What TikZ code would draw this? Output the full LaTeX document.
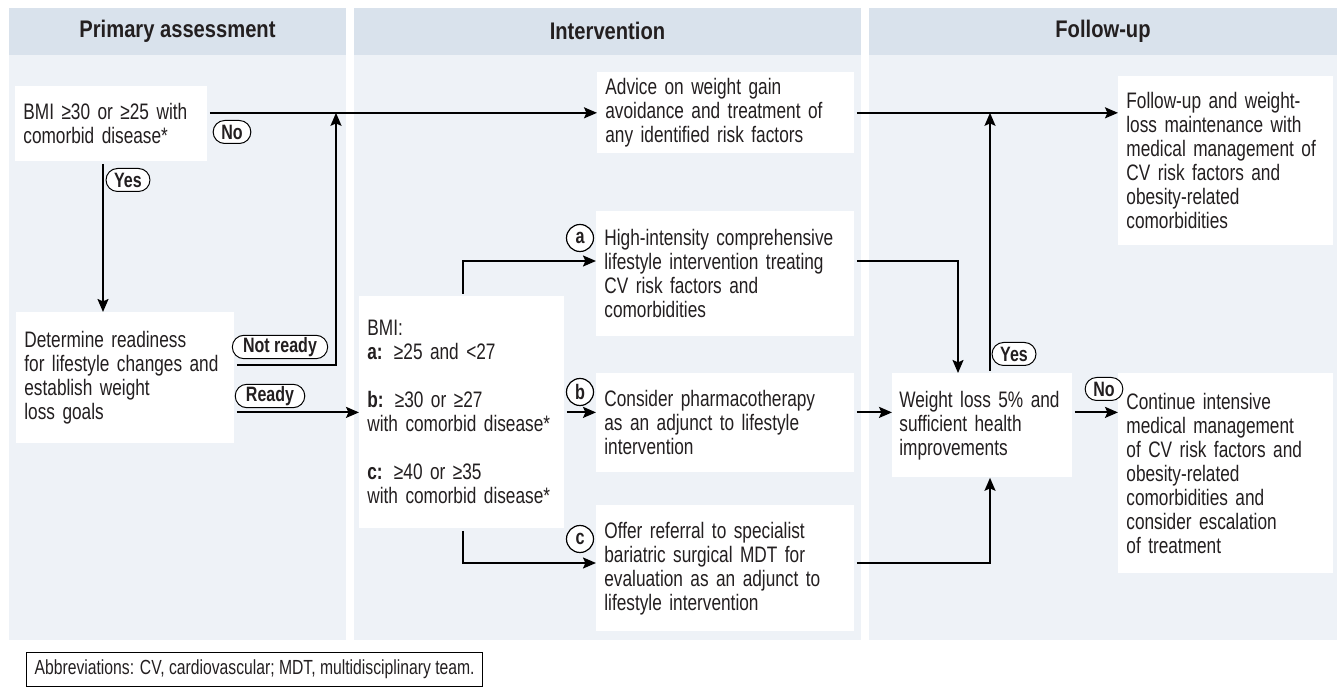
\documentclass[tikz,border=0pt]{standalone}
\usepackage{fontspec}
\setmainfont{Liberation Sans}[FakeStretch=0.77]
\newfontfamily\headfont{Liberation Sans}[FakeStretch=0.84]
\usetikzlibrary{arrows.meta,shapes.misc}
\definecolor{headblue}{RGB}{217,226,236}
\definecolor{panelblue}{RGB}{238,242,247}
\definecolor{inkgray}{RGB}{35,31,32}

\begin{document}
\begin{tikzpicture}[x=0.5pt,y=-0.5pt,
  box/.style={fill=white,anchor=north west,inner xsep=4pt,inner ysep=3pt,align=left,
    text=inkgray,font=\fontsize{11.2}{12}\selectfont},
  head/.style={font=\headfont\bfseries\fontsize{12}{13}\selectfont,text=inkgray},
  pill/.style={rounded rectangle,draw,line width=0.5pt,fill=white,inner xsep=2.8pt,inner ysep=1pt,
    minimum height=11.5pt,text=inkgray,font=\bfseries\fontsize{10.4}{10}\selectfont},
  badge/.style={circle,draw,line width=0.6pt,fill=white,minimum size=13.5pt,inner sep=0pt,
    text=inkgray,font=\bfseries\fontsize{10.5}{10}\selectfont},
  conn/.style={line width=0.9pt,shorten <=1pt,-{Stealth[length=6.5pt,width=5.5pt,inset=1.2pt]}}]
  \useasboundingbox (0,0) rectangle (1343,688);
  % the three columns
  \foreach \xa/\xb/\ttl/\nm in {9/346/Primary assessment/hprim,354/861/Intervention/hinter,869/1337/Follow-up/hfollow}
  {
    \fill[headblue] (\xa,8) rectangle (\xb,55);
    \fill[panelblue] (\xa,55) rectangle (\xb,640);
    \node[head] (\nm) at ({(\xa+\xb)/2},31) {\ttl};
  };
  % boxes
  \node[box,text width=88pt,minimum height=37.5pt] (assess) at (15,86)
    {BMI ≥30 or ≥25 with\\comorbid disease*};
  \node[box,text width=101pt,minimum height=65.5pt] (ready) at (16,312)
    {Determine readiness\\for lifestyle changes and\\establish weight\\loss goals};
  \node[box,text width=94.5pt,minimum height=116pt] (bmi) at (359,296)
    {BMI:\\\textbf{a:} ≥25 and <27\\[12pt]\textbf{b:} ≥30 or ≥27\\with comorbid disease*\\[12pt]\textbf{c:} ≥40 or ≥35\\with comorbid disease*};
  \node[box,text width=120.5pt,minimum height=40pt] (advice) at (597,72)
    {Advice on weight gain\\avoidance and treatment of\\any identified risk factors};
  \node[box,text width=121pt,minimum height=62.5pt] (hiint) at (596,211)
    {High-intensity comprehensive\\lifestyle intervention treating\\CV risk factors and\\comorbidities};
  \node[box,text width=121pt,minimum height=49.5pt] (pharm) at (596,373)
    {Consider pharmacotherapy\\as an adjunct to lifestyle\\intervention};
  \node[box,text width=121pt,minimum height=63pt] (surg) at (596,505)
    {Offer referral to specialist\\bariatric surgical MDT for\\evaluation as an adjunct to\\lifestyle intervention};
  \node[box,text width=83pt,inner xsep=3.5pt,minimum height=52pt] (wloss) at (892,373)
    {Weight loss 5\% and\\sufficient health\\improvements};
  \node[box,text width=99.5pt,minimum height=84.5pt] (fup) at (1118,76)
    {Follow-up and weight-\\loss maintenance with\\medical management of\\CV risk factors and\\obesity-related\\comorbidities};
  \node[box,text width=99.5pt,minimum height=100pt] (cont) at (1118,373)
    {Continue intensive\\medical management\\of CV risk factors and\\obesity-related\\comorbidities and\\consider escalation\\of treatment};
  % bends
  \coordinate (yesx) at (103,0);
  \coordinate (nrdy) at (336,365);
  \coordinate (afork) at (463,261);
  \coordinate (cfork) at (463,563);
  \coordinate (ajoin) at (958,261);
  \coordinate (cjoin) at (990,563);
  % connectors
  \draw[conn] (assess.east |- advice.west) -- (advice.west);
  \draw[conn] (advice.east) -- (advice.east -| fup.west);
  \draw[conn] (assess.south -| yesx) -- (ready.north -| yesx);
  \draw[conn] (ready.east |- nrdy) -- (nrdy) -- (nrdy |- advice.west);
  \draw[conn] (ready.east |- bmi.west) -- (bmi.west);
  \draw[conn] (bmi.north -| afork) -- (afork) -- (hiint.west |- afork);
  \draw[conn] (bmi.east) -- (bmi.east -| pharm.west);
  \draw[conn] (bmi.south -| cfork) -- (cfork) -- (surg.west |- cfork);
  \draw[conn] (hiint.east |- ajoin) -- (ajoin) -- (ajoin |- wloss.north);
  \draw[conn] (bmi.east -| pharm.east) -- (bmi.east -| wloss.west);
  \draw[conn] (surg.east |- cjoin) -- (cjoin) -- (cjoin |- wloss.south);
  \draw[conn] (wloss.north -| cjoin) -- (cjoin |- advice.east);
  \draw[conn] (bmi.east -| wloss.east) -- (bmi.east -| cont.west);
  % labels
  \node[pill] (no1) at (232,132) {No};
  \node[pill] (yes1) at (128,180) {Yes};
  \node[pill] (notrdy) at (280,347) {Not ready};
  \node[pill] (rdy) at (270,396) {Ready};
  \node[badge] (lba) at (580,238) {a};
  \node[badge] (lbb) at (580,392) {b};
  \node[badge] (lbc) at (580,539) {c};
  \node[pill] (yes2) at (1014,354) {Yes};
  \node[pill] (no2) at (1104,389) {No};
  % footnote
  \node[draw,line width=0.6pt,anchor=north west,minimum width=228pt,minimum height=17pt,
    inner xsep=2pt,text=inkgray,font=\fontsize{10.2}{11}\selectfont] (abbr) at (26,652)
    {Abbreviations: CV, cardiovascular; MDT, multidisciplinary team.};
\end{tikzpicture}
\end{document}
